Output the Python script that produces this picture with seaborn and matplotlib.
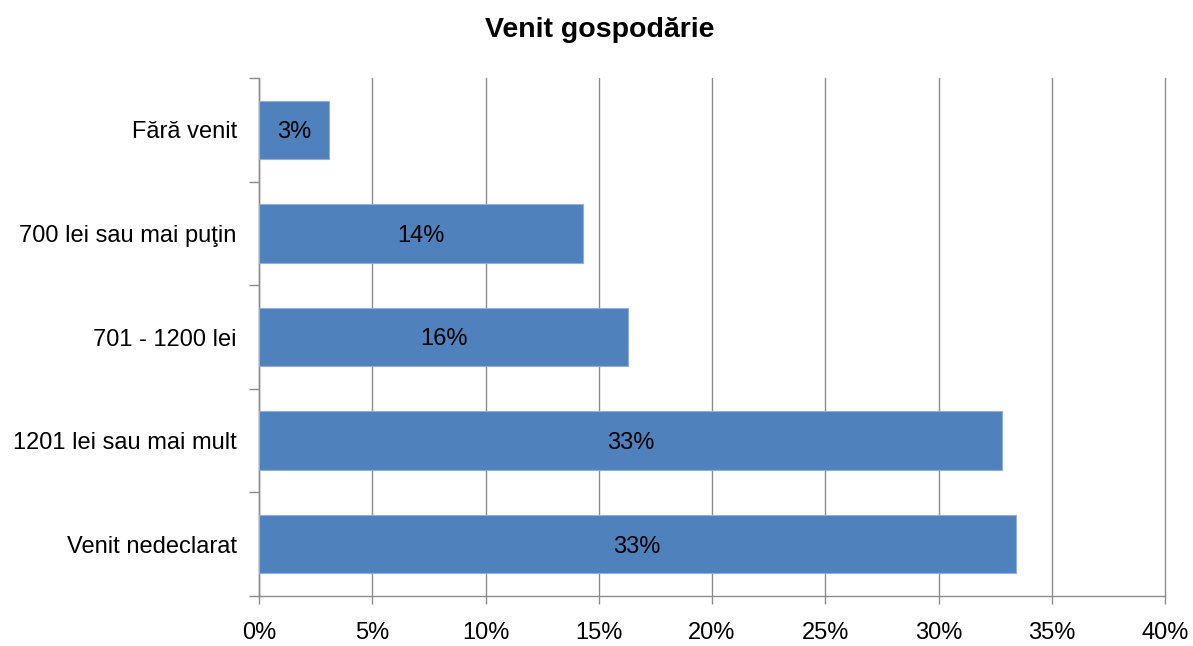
import matplotlib
matplotlib.use("Agg")
import matplotlib.pyplot as plt
import seaborn as sns
import pandas as pd
from matplotlib.ticker import FuncFormatter, MultipleLocator

categories = ["Fără venit", "700 lei sau mai puţin", "701 - 1200 lei",
              "1201 lei sau mai mult", "Venit nedeclarat"]
values = [3.1, 14.3, 16.3, 32.8, 33.4]
labels = ["3%", "14%", "16%", "33%", "33%"]

sns.set_theme(style="white")
plt.rcParams['font.family'] = ['Liberation Sans', 'DejaVu Sans']
plt.rcParams['text.color'] = 'black'
plt.rcParams['xtick.color'] = 'black'
plt.rcParams['ytick.color'] = 'black'

df = pd.DataFrame({"cat": categories, "val": values})

fig = plt.figure(figsize=(11.93, 6.46), dpi=100)
ax = fig.add_axes([259/1193, 1-596/646, (1165-259)/1193, (596-78)/646])

sns.barplot(data=df, y="cat", x="val", order=categories, color="#4F81BD",
            saturation=1, width=0.563, edgecolor="#8FAEDB", linewidth=0.8, ax=ax, zorder=3)

for p, lab in zip(ax.patches, labels):
    cx = p.get_x() + p.get_width() / 2
    cy = p.get_y() + p.get_height() / 2
    ax.annotate(lab, (cx, cy), xytext=(0, -6), textcoords="offset points",
                ha="center", va="baseline", fontsize=17, color="black", zorder=4)

ax.set_xlim(0, 40)
ax.set_ylim(4.5, -0.5)
ax.xaxis.set_major_locator(MultipleLocator(5))
ax.xaxis.set_major_formatter(FuncFormatter(lambda v, p: f"{int(v)}%"))
ax.grid(axis="x", color="#8C8C8C", linewidth=1, zorder=0)
for gl in ax.get_xgridlines():
    gl.set_clip_on(False)
ax.set_axisbelow(True)
ax.set_xlabel("")
ax.set_ylabel("")

for s in ["top", "right"]:
    ax.spines[s].set_visible(False)
for s in ["left", "bottom"]:
    ax.spines[s].set_color("#8C8C8C")
    ax.spines[s].set_linewidth(1)

# y ticks at category boundaries, labels at centers
ax.set_yticks([i - 0.5 for i in range(6)], minor=False)
ax.set_yticklabels([])
ax.set_yticks(range(len(categories)), minor=True)
ax.set_yticklabels(categories, minor=True)
ax.tick_params(axis="y", which="major", length=7, color="#8C8C8C", width=1, direction="out", left=True)
ax.tick_params(axis="y", which="minor", length=0, pad=16, labelsize=17, labelcolor="black")
ax.tick_params(axis="x", length=6, color="#8C8C8C", width=1, direction="out", bottom=True,
               labelsize=17, pad=13, labelcolor="black")

fig.text(600/1193, 1-30/646, "Venit gospodărie", ha="center", va="center",
         fontsize=20.5, fontweight="bold", color="black")

fig.savefig("out.png", dpi=100)
